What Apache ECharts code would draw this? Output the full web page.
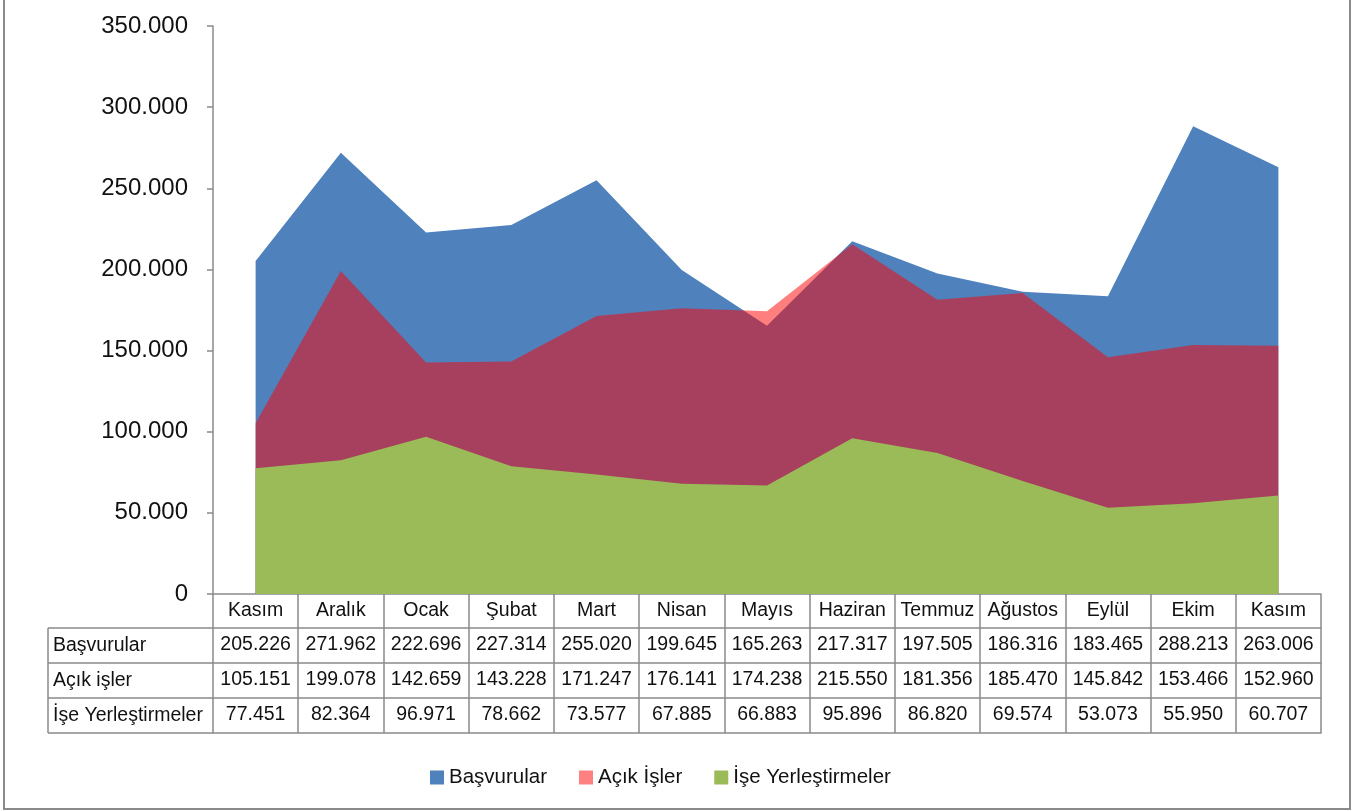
<!DOCTYPE html>
<html>
<head>
    <meta charset="utf-8">
    <title>Başvurular / Açık İşler / İşe Yerleştirmeler</title>
    <script src="https://cdn.jsdelivr.net/npm/echarts@6/dist/echarts.min.js"></script>
    <style>
        html, body { margin: 0; padding: 0; background: #fff; }
        #main { width: 1358px; height: 811px; }
    </style>
</head>
<body>
<div id="main"></div>
<script>
    // veriler
    var aylar = ['Kasım', 'Aralık', 'Ocak', 'Şubat', 'Mart', 'Nisan', 'Mayıs', 'Haziran', 'Temmuz', 'Ağustos', 'Eylül', 'Ekim', 'Kasım'];
    var basvurular = [205226, 271962, 222696, 227314, 255020, 199645, 165263, 217317, 197505, 186316, 183465, 288213, 263006];
    var acikIsler = [105151, 199078, 142659, 143228, 171247, 176141, 174238, 215550, 181356, 185470, 145842, 153466, 152960];
    var iseYerlestirmeler = [77451, 82364, 96971, 78662, 73577, 67885, 66883, 95896, 86820, 69574, 53073, 55950, 60707];
    var seriAdlari = ['Başvurular', 'Açık İşler', 'İşe Yerleştirmeler'];
    var satirAdlari = ['Başvurular', 'Açık işler', 'İşe Yerleştirmeler'];
    var yTicks = [0, 50000, 100000, 150000, 200000, 250000, 300000, 350000];

    var FONT = "'Liberation Sans', Arial, sans-serif";
    var GRI = '#8a8a8a';
    // tablo düzeni
    var gridLeft = 213, gridTop = 26, gridBottomY = 594;
    var basH = 34, satirH = 35, tabloSol = 48;
    var tabloFont = 19.5;

    function fmt(v) {
        return String(v).replace(/\B(?=(\d{3})+(?!\d))/g, '.');
    }

    var satirlar = [basvurular, acikIsler, iseYerlestirmeler];

    var xAxes = [{
        type: 'category',
        data: aylar,
        position: 'bottom',
        boundaryGap: true,
        axisLine: { lineStyle: { color: GRI, width: 1.5 } },
        axisTick: { show: true, length: basH, lineStyle: { color: GRI, width: 1.5 } },
        axisLabel: { interval: 0, margin: 7, fontSize: tabloFont, color: '#111', fontFamily: FONT }
    }];
    satirlar.forEach(function (vals, i) {
        xAxes.push({
            type: 'category',
            data: aylar,
            position: 'bottom',
            offset: basH + i * satirH,
            boundaryGap: true,
            axisLine: { lineStyle: { color: GRI, width: 1.5 } },
            axisTick: { show: true, length: satirH, lineStyle: { color: GRI, width: 1.5 } },
            axisLabel: {
                interval: 0, margin: 7, fontSize: tabloFont, color: '#111', fontFamily: FONT,
                formatter: function (v, idx) { return fmt(vals[idx]); }
            }
        });
    });
    xAxes.push({
        type: 'category',
        data: aylar,
        position: 'bottom',
        offset: basH + 3 * satirH,
        boundaryGap: true,
        axisLine: { lineStyle: { color: GRI, width: 1.5 } },
        axisTick: { show: false },
        axisLabel: { show: false }
    });

    // dış çerçeve + sol sütun (satır başlıkları)
    var graphics = [{
        type: 'rect',
        shape: { x: 4, y: -5, width: 1346, height: 814 },
        style: { fill: 'none', stroke: GRI, lineWidth: 2 },
        silent: true
    }];
    var ustY = gridBottomY + basH;
    for (var r = 0; r <= 3; r++) {
        graphics.push({
            type: 'line',
            shape: { x1: tabloSol, y1: ustY + r * satirH, x2: gridLeft, y2: ustY + r * satirH },
            style: { stroke: GRI, lineWidth: 1.5 }
        });
    }
    graphics.push({
        type: 'line',
        shape: { x1: tabloSol, y1: ustY, x2: tabloSol, y2: ustY + 3 * satirH },
        style: { stroke: GRI, lineWidth: 1.5 }
    });
    satirAdlari.forEach(function (ad, i) {
        graphics.push({
            type: 'text',
            x: tabloSol + 5,
            y: ustY + i * satirH + satirH / 2,
            style: { text: ad, fontSize: tabloFont, fontFamily: FONT, fill: '#111', verticalAlign: 'middle', align: 'left' }
        });
    });

    var myChart = echarts.init(document.getElementById('main'));

    var option = {
        animation: false,
        backgroundColor: '#fff',
        textStyle: { fontFamily: FONT },
        grid: { left: gridLeft, right: 1358 - 1321, top: gridTop, bottom: 811 - gridBottomY },
        legend: {
            left: 425,
            top: 762,
            icon: 'rect',
            itemWidth: 14,
            itemHeight: 14,
            itemGap: 32,
            textStyle: { fontSize: 20.5, color: '#111', fontFamily: FONT },
            data: [
                { name: seriAdlari[0], itemStyle: { color: '#4F81BD' } },
                { name: seriAdlari[1], itemStyle: { color: '#FF8080' } },
                { name: seriAdlari[2], itemStyle: { color: '#9BBB59' } }
            ]
        },
        xAxis: xAxes,
        yAxis: {
            type: 'value',
            min: yTicks[0],
            max: yTicks[yTicks.length - 1],
            interval: 50000,
            splitLine: { show: false },
            axisLine: { show: true, lineStyle: { color: GRI, width: 1.5 } },
            axisTick: { show: true, length: 6, lineStyle: { color: GRI, width: 1.5 } },
            axisLabel: { margin: 25, fontSize: 24, color: '#111', fontFamily: FONT, formatter: fmt }
        },
        graphic: graphics,
        series: [{
            name: seriAdlari[0],
            type: 'line',
            data: basvurular,
            symbol: 'none',
            color: '#4F81BD',
            lineStyle: { width: 0 },
            areaStyle: { color: '#4F81BD', opacity: 1 }
        }, {
            name: seriAdlari[1],
            type: 'line',
            data: acikIsler,
            symbol: 'none',
            color: '#FF8080',
            lineStyle: { width: 0 },
            areaStyle: { color: 'rgba(255,0,0,0.5)', opacity: 1 }
        }, {
            name: seriAdlari[2],
            type: 'line',
            data: iseYerlestirmeler,
            symbol: 'none',
            color: '#9BBB59',
            lineStyle: { width: 0 },
            areaStyle: { color: '#9BBB59', opacity: 1 }
        }]
    };

    myChart.setOption(option);
</script>
</body>
</html>
